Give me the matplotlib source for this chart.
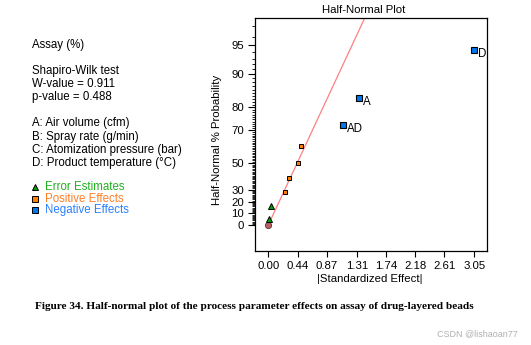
import math
from statistics import NormalDist

import matplotlib
matplotlib.use("Agg")
import matplotlib.pyplot as plt
import numpy as np

plt.rcParams["font.family"] = ["Liberation Sans", "DejaVu Sans"]

# |standardized effect| and half-normal probability (%) for each effect
error_effects = [0.015, 0.035]
error_prob = [5.6, 16.7]
pos_effects = [0.25, 0.30, 0.44, 0.49]
pos_prob = [27.8, 38.9, 50.0, 61.1]
neg_effects = [1.10, 1.35, 3.05]
neg_prob = [72.2, 83.3, 94.4]
neg_labels = ["AD", "A", "D"]
origin_effect = [0.0]
origin_prob = [0.0]

line_slope = 1.58  # fitted line through the error estimates, z per unit effect

x_ticks = [0.00, 0.44, 0.87, 1.31, 1.74, 2.18, 2.61, 3.05]
x_ticklabels = ["0.00", "0.44", "0.87", "1.31", "1.74", "2.18", "2.61", "3.05"]
y_ticks = [0, 10, 20, 30, 50, 70, 80, 90, 95]

info_lines = [
    ("Assay (%)", 44.7),
    ("Shapiro-Wilk test", 71.3),
    ("W-value = 0.911", 84.3),
    ("p-value = 0.488", 97.3),
    ("A: Air volume (cfm)", 123.3),
    ("B: Spray rate (g/min)", 136.7),
    ("C: Atomization pressure (bar)", 150.0),
    ("D: Product temperature (\u00b0C)", 163.3),
]

W, H = 531, 345
nd = NormalDist()


def hn(pct):
    """Half-normal probability (%) -> normal score."""
    p = np.asarray(pct, dtype=float) / 100.0
    return np.array([nd.inv_cdf(0.5 + v / 2.0) for v in np.atleast_1d(p)])


def fx(px):
    return px / W


def fy(py):
    return 1 - py / H


fig = plt.figure(figsize=(W / 100, H / 100), dpi=100)
ax = fig.add_axes([fx(255), fy(251), fx(487) - fx(255), fy(18) - fy(251)])

# reference line
x_top = 2.257 / line_slope
ax.plot([0, x_top * 1.05], [0, 2.257 * 1.05], color="#ff8080", lw=0.9, zorder=1)

ax.plot(origin_effect, hn(origin_prob), "o", ms=4.5, mfc="#b86060", mec="#603030",
        mew=0.6, zorder=3)
ax.plot(error_effects, hn(error_prob), "^", ms=4.5, mfc="#00a000", mec="black",
        mew=0.7, zorder=3)
ax.plot(pos_effects, hn(pos_prob), "s", ms=3.5, mfc="#ff8000", mec="black",
        mew=0.7, zorder=3)
ax.plot(neg_effects, hn(neg_prob), "s", ms=5, mfc="#0078f0", mec="black",
        mew=0.8, zorder=3)
for x, z, lab in zip(neg_effects, hn(neg_prob), neg_labels):
    ax.annotate(lab, (x, z), xytext=(4, -4), textcoords="offset pixels",
                ha="left", va="center", fontsize=8.3)

ax.set_xlim(-0.197, 3.24)
ax.set_ylim(-0.284, 2.257)

ax.set_xticks(x_ticks)
ax.set_xticklabels(x_ticklabels)
ax.set_yticks(hn(y_ticks))
ax.set_yticklabels([str(v) for v in y_ticks])
minor = [v for v in range(1, 98) if v not in y_ticks]
ax.set_yticks(hn(minor), minor=True)
ax.tick_params(axis="both", labelsize=8.2, direction="out", width=0.8, pad=3)
ax.tick_params(axis="x", length=4.3)
ax.tick_params(axis="y", which="major", length=5)
ax.tick_params(axis="y", which="minor", length=2.2, width=0.6)
for s in ax.spines.values():
    s.set_linewidth(0.9)

fig.text(fx(364), fy(10), "Half-Normal Plot", ha="center", va="center", fontsize=8.2)
fig.text(fx(217), fy(140), "Half-Normal % Probability", ha="center", va="center",
         rotation=90, fontsize=8.2)
fig.text(fx(370), fy(279), "|Standardized Effect|", ha="center", va="center", fontsize=8.2)

for txt, y in info_lines:
    fig.text(fx(32), fy(y), txt, ha="left", va="center", fontsize=8.3)

# legend for the marker classes
legend_items = [
    ("^", "#00a000", "Error Estimates", "#20b020", 186.7, 4),
    ("s", "#ff8000", "Positive Effects", "#ff7f27", 199.0, 4),
    ("s", "#0078f0", "Negative Effects", "#2a80ff", 210.3, 4),
]
for mk, mc, lab, tc, y, ms in legend_items:
    fig.lines.append(plt.Line2D([fx(35)], [fy(y)], marker=mk, ms=ms, mfc=mc,
                                mec="black", mew=0.7, transform=fig.transFigure))
    fig.text(fx(45), fy(y), lab, ha="left", va="center", fontsize=8.3, color=tc)

fig.text(fx(35), fy(306.7),
         "Figure 34. Half-normal plot of the process parameter effects on assay of drug-layered beads",
         ha="left", va="center", fontsize=8.15, fontweight="bold",
         family=["Liberation Serif", "DejaVu Serif"])
fig.text(fx(518), fy(334), "CSDN @lishaoan77", ha="right", va="center",
         fontsize=6.5, color="#b0b0b0")

fig.savefig("out.png", dpi=100)
